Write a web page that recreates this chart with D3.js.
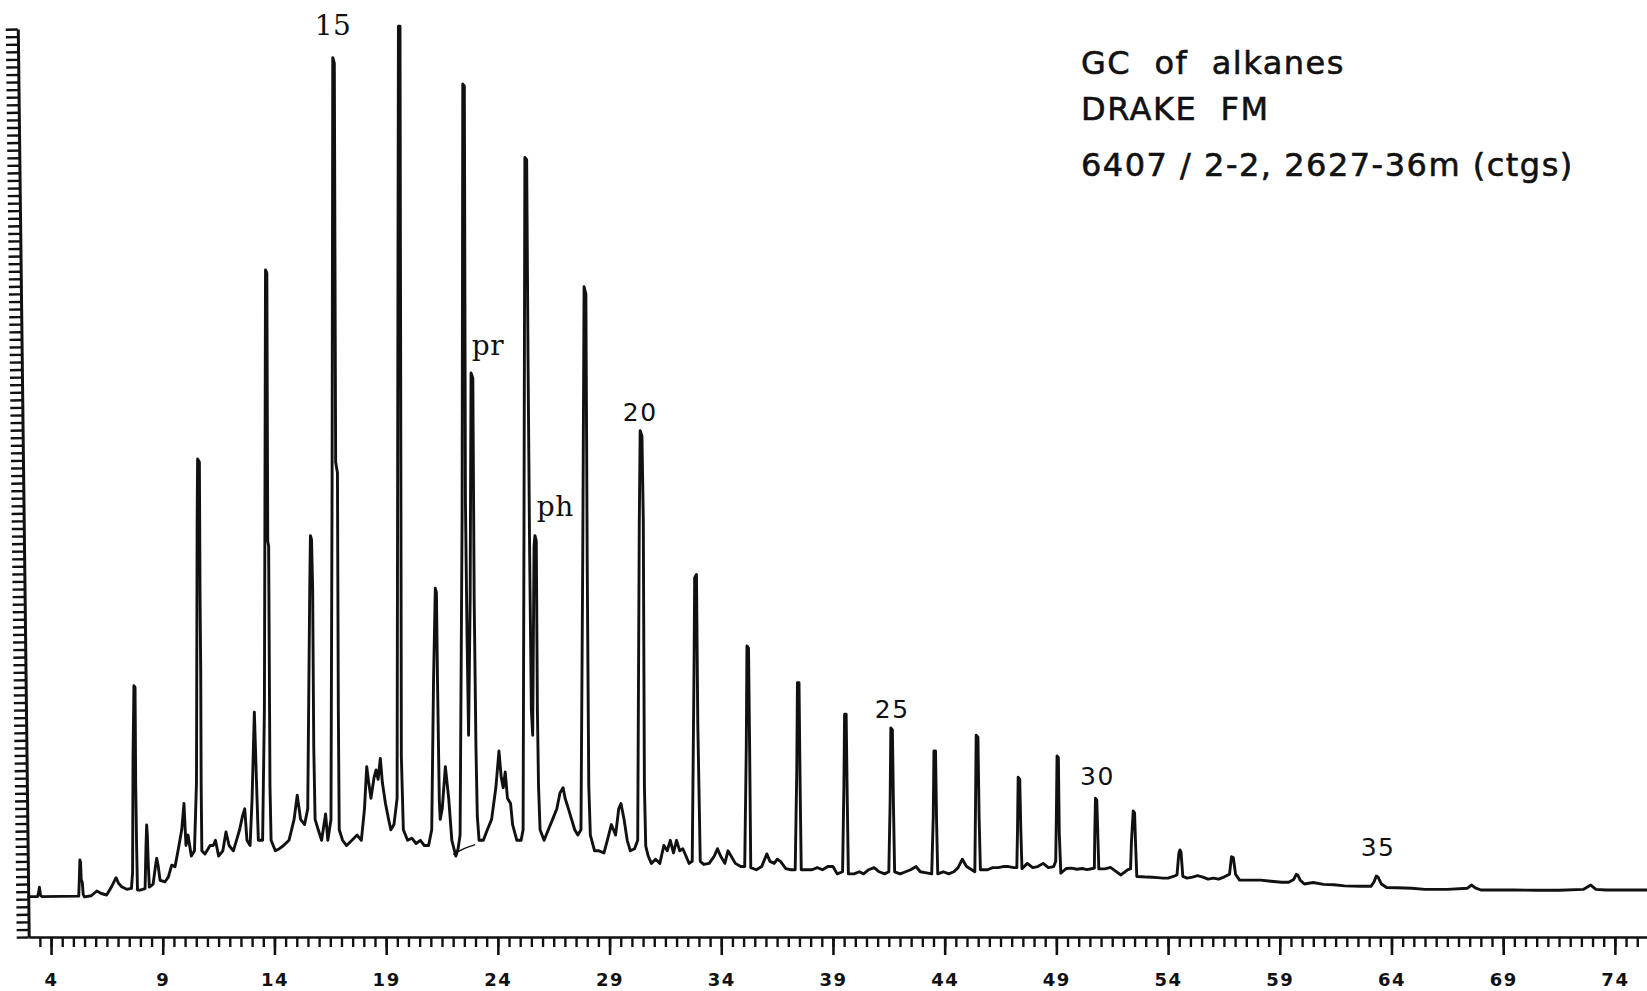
<!DOCTYPE html>
<html>
<head>
<meta charset="utf-8">
<script src="https://cdn.jsdelivr.net/npm/d3@7"></script>
<style>
  html, body { margin: 0; padding: 0; background: #fff; }
  svg { display: block; }
</style>
</head>
<body>
<svg id="chart" width="1647" height="991"></svg>
<script>
// Detector trace: [retention time (min), signal]
const trace = [
  [3.00,5.33],[3.40,5.35],[3.45,6.0],[3.48,6.57],[3.53,5.5],[3.60,5.33],[5.24,5.40],[5.27,8.0],[5.29,10.18],[5.32,9.9],[5.35,7.6],[5.40,7.2],[5.44,5.6],[5.50,5.3],[5.80,5.45],[6.05,6.08],[6.25,5.75],[6.49,5.55],[6.70,6.6],[6.91,7.84],[7.02,7.1],[7.16,6.65],[7.39,6.3],[7.60,6.43],
  [7.65,8.5],[7.67,23.6],[7.71,33.2],[7.76,33.0],[7.79,19.9],[7.83,12.0],[7.87,6.2],
  [7.98,6.2],[8.21,6.4],[8.25,12.0],[8.28,14.8],[8.31,13.5],[8.35,9.8],[8.40,6.6],[8.57,7.0],[8.68,9.5],[8.73,10.4],[8.80,9.3],[8.88,7.5],[9.10,7.3],[9.25,7.9],[9.40,9.5],[9.55,9.3],[9.70,11.67],[9.85,14.17],[9.95,17.64],[10.04,12.09],[10.13,13.47],[10.28,10.70],[10.42,11.39],[10.51,20.41],
  [10.54,55],[10.56,63.17],[10.64,62.75],[10.67,45],[10.70,35.0],[10.72,20],[10.75,11.39],
  [10.89,10.98],[11.12,12.09],[11.26,12.09],[11.36,12.78],[11.50,10.70],[11.69,11.39],[11.83,13.89],[11.97,12.09],[12.16,11.39],[12.30,12.78],[12.44,14.17],[12.58,16.11],[12.67,16.94],[12.77,12.78],[12.91,12.09],[13.00,18.33],[13.10,29.72],[13.19,21.11],[13.28,12.78],[13.47,12.78],
  [13.55,30],[13.57,51.65],[13.60,88.16],[13.66,87.74],[13.70,52.35],[13.74,51.65],[13.80,20],[13.85,12.78],
  [14.04,11.39],[14.22,11.67],[14.41,12.09],[14.65,12.78],[14.88,15.54],[15.02,18.75],[15.17,15.54],[15.35,14.86],[15.49,16.94],
  [15.58,46.09],[15.61,53.04],[15.66,52.5],[15.71,46.09],[15.76,25],[15.82,15.54],
  [15.96,14.17],[16.11,12.78],[16.29,16.25],[16.39,12.78],[16.53,15.54],
  [16.58,60],[16.61,116.2],[16.68,115.5],[16.74,62.75],[16.82,61.37],[16.86,30],[16.90,14.17],
  [17.05,12.78],[17.23,12.09],[17.47,12.78],[17.70,13.47],[17.89,12.78],[18.03,16.94],[18.13,22.50],[18.22,20.41],[18.32,18.33],[18.46,21.11],[18.55,22.08],[18.64,20.83],[18.74,23.61],[18.83,20.41],[18.97,17.64],[19.11,15.54],[19.21,14.17],[19.35,14.86],[19.49,18.33],
  [19.53,90],[19.55,120.36],[19.62,120.36],[19.66,60],[19.68,23.89],[19.77,14.17],
  [19.96,12.78],[20.15,13.06],[20.34,12.36],[20.53,12.78],[20.71,12.09],[20.90,12.09],[21.04,14.17],
  [21.12,33.6],[21.20,46.09],[21.25,45.5],[21.30,33.6],[21.38,18],[21.42,15.54],
  [21.51,16.94],[21.65,22.50],[21.80,18.33],[21.94,12.78],[22.12,10.70],[22.22,11.67],[22.31,13.47],
  [22.40,55.81],[22.43,112.73],[22.50,112.45],[22.55,57.2],[22.62,40],[22.69,26.66],
  [22.76,44.71],[22.80,74.55],[22.88,73.86],[22.94,44.71],[23.02,25],[23.08,16],[23.16,12.78],
  [23.35,12.78],[23.53,14.17],[23.72,15.54],[23.91,19.72],[24.05,24.58],[24.15,21.11],[24.24,19.72],[24.33,21.8],[24.43,18.33],[24.57,17.64],[24.66,14.86],[24.85,12.78],[25.04,12.78],[25.13,14.17],
  [25.17,54.43],[25.21,103.01],[25.29,102.73],[25.35,76.63],[25.42,51.65],[25.50,30],[25.56,26.66],
  [25.62,51.65],[25.66,53.04],[25.72,52.35],[25.77,30],[25.82,20],[25.89,14.17],
  [26.07,12.78],[26.26,14.17],[26.45,15.54],[26.64,16.94],[26.78,19.03],[26.92,19.72],[27.01,18.33],[27.16,16.94],[27.30,15.54],[27.44,14.17],[27.58,13.47],[27.72,14.17],
  [27.80,50.26],[27.86,85.94],[27.94,84.96],[28.00,49.57],[28.07,20],[28.14,13.47],
  [28.33,11.39],[28.52,11.39],[28.75,11.11],[28.90,12.78],[29.08,14.86],[29.27,13.47],[29.41,16.94],[29.51,17.64],[29.65,15.54],[29.79,12.78],[29.93,11.39],[30.12,11.67],[30.26,12.78],
  [30.33,54.43],[30.37,66.92],[30.45,66.22],[30.51,55.12],[30.56,20],[30.62,12.0],
  [30.73,10.70],[30.87,9.73],[31.06,10.28],[31.25,9.73],[31.43,12.09],[31.58,11.39],[31.72,12.78],[31.86,11.11],[32.00,12.78],[32.14,11.39],[32.28,11.67],[32.42,10.70],[32.56,9.73],[32.70,10.00],
  [32.78,35],[32.81,47.48],[32.89,47.90],[32.95,28.05],[33.00,20],[33.06,10.00],
  [33.22,9.59],[33.46,9.73],[33.69,10.70],[33.83,11.67],[33.97,10.70],[34.16,9.73],[34.30,11.39],[34.44,10.70],[34.63,9.73],[34.87,9.31],[35.05,9.31],
  [35.12,25],[35.15,38.46],[35.22,38.18],[35.27,25],[35.32,9.17],
  [35.57,8.89],[35.81,9.31],[36.04,10.98],[36.18,10.00],[36.37,9.73],[36.51,10.28],[36.65,10.00],[36.89,9.03],[37.12,8.89],[37.31,8.89],
  [37.38,22],[37.41,33.6],[37.48,33.6],[37.53,20],[37.58,8.89],
  [37.83,8.89],[38.06,8.89],[38.30,9.17],[38.53,8.89],[38.77,9.31],[39.00,9.31],[39.19,8.34],[39.43,8.62],
  [39.49,20],[39.52,29.44],[39.59,29.44],[39.64,18],[39.69,8.34],
  [39.94,8.34],[40.18,8.62],[40.37,8.34],[40.60,8.89],[40.84,9.17],[41.07,8.62],[41.31,8.34],[41.50,8.62],
  [41.56,18],[41.59,27.63],[41.66,27.36],[41.71,17],[41.76,8.62],
  [42.01,8.34],[42.25,8.62],[42.48,8.89],[42.72,9.31],[42.91,8.62],[43.19,8.48],[43.42,8.34],
  [43.49,16],[43.52,24.58],[43.59,24.58],[43.64,15],[43.69,8.34],
  [43.94,8.62],[44.18,8.34],[44.41,8.62],[44.60,9.17],[44.79,10.28],[44.98,9.31],[45.21,8.89],[45.35,8.62],
  [45.38,17],[45.41,26.66],[45.49,26.39],[45.54,16],[45.60,8.89],
  [45.92,8.89],[46.15,9.17],[46.39,9.17],[46.62,9.31],[46.86,9.31],[47.09,9.17],[47.23,9.17],
  [47.26,14],[47.29,21.11],[47.36,20.83],[47.41,14],[47.46,9.03],
  [47.70,9.73],[47.94,9.17],[48.17,9.31],[48.41,9.73],[48.64,9.17],[48.88,9.31],[48.97,10.00],
  [49.00,16],[49.03,23.92],[49.09,23.7],[49.13,13.7],[49.20,8.42],
  [49.44,9.05],[49.68,9.1],[49.91,8.95],[50.15,9.05],[50.38,8.9],[50.62,9.05],[50.70,9.1],
  [50.72,13.7],[50.75,18.33],[50.81,18.1],[50.86,13.0],[50.90,9.0],
  [51.18,9.0],[51.42,9.2],[51.65,8.7],[51.89,8.2],[52.20,8.9],[52.32,9.0],
  [52.36,12.5],[52.44,16.65],[52.50,16.4],[52.55,11.9],[52.60,8.0],
  [52.83,7.97],[53.06,7.92],[53.30,7.9],[53.53,7.85],[53.77,7.78],[54.00,7.78],[54.24,8.0],[54.40,8.2],
  [54.48,11.0],[54.53,11.5],[54.58,11.2],[54.66,8.0],
  [54.85,7.78],[55.09,7.92],[55.32,8.1],[55.56,7.92],[55.79,7.64],[56.03,7.78],[56.26,7.64],[56.50,7.92],[56.75,8.3],
  [56.84,10.61],[56.92,10.5],[57.02,8.3],[57.20,7.51],[57.67,7.51],[58.14,7.51],[58.61,7.37],[59.08,7.23],[59.40,7.23],[59.62,7.6],
  [59.74,8.28],[59.80,8.2],[59.92,7.5],[60.10,7.0],[60.49,7.2],[60.96,6.95],[61.43,6.9],[61.90,6.75],[62.61,6.7],[63.08,6.7],[63.22,7.3],
  [63.32,8.06],[63.40,7.9],[63.55,7.0],[63.78,6.55],[64.25,6.5],[64.90,6.45],[65.50,6.3],[66.50,6.3],[67.40,6.45],
  [67.59,6.87],[67.75,6.5],[68.00,6.21],[69.50,6.21],[70.50,6.17],[71.50,6.17],[72.60,6.3],
  [72.92,6.87],[73.15,6.3],[73.60,6.21],[75.44,6.21]
];

// Integrator baseline drawn under the pristane peak
const integratorBase = [[22.00,10.9],[22.45,11.7],[22.98,12.2]];

// Peak annotations: text, retention time, signal height of the text baseline
const peakLabels = [
  { text: "15", t: 16.62, s: 119.2, font: "serif", anchor: "middle" },
  { text: "pr", t: 22.83, s: 76.9,  font: "serif", anchor: "start" },
  { text: "ph", t: 25.74, s: 55.6,  font: "serif", anchor: "start" },
  { text: "20", t: 30.37, s: 68.2,  font: "sans",  anchor: "middle" },
  { text: "25", t: 41.65, s: 28.9,  font: "sans",  anchor: "middle" },
  { text: "30", t: 50.84, s: 20.1,  font: "sans",  anchor: "middle" },
  { text: "35", t: 63.40, s: 10.7,  font: "sans",  anchor: "middle" }
];

// Labelled x-axis ticks (minutes)
const xMajorTicks = [4, 9, 14, 19, 24, 29, 34, 39, 44, 49, 54, 59, 64, 69, 74];

const titleLines = ["GC  of  alkanes", "DRAKE  FM", "6407 / 2-2, 2627-36m (ctgs)"];

const svg = d3.select("#chart");
const x = d3.scaleLinear().domain([3, 75.5]).range([28.7, 1648.4]);
const y = d3.scaleLinear().domain([0, 120]).range([937, 29]);

const ink = "#111";

// x axis: half-minute minor ticks and labelled major ticks
const minorTicks = d3.range(3.5, 75.01, 0.5);
const gMinor = svg.append("g")
  .attr("transform", `translate(0,${y(0)})`)
  .call(d3.axisBottom(x).tickValues(minorTicks).tickSize(10).tickSizeOuter(0).tickFormat(""));
gMinor.select(".domain").attr("stroke", ink).attr("stroke-width", 2.6);
gMinor.selectAll(".tick line").attr("stroke", ink).attr("stroke-width", 2.4);

const gMajor = svg.append("g")
  .attr("transform", `translate(0,${y(0)})`)
  .call(d3.axisBottom(x).tickValues(xMajorTicks).tickSize(18).tickSizeOuter(0).tickFormat(d3.format("d")));
gMajor.select(".domain").remove();
gMajor.selectAll(".tick line").attr("stroke", ink).attr("stroke-width", 2.6);
gMajor.selectAll(".tick text")
  .attr("y", 49).attr("dy", 0)
  .attr("fill", ink)
  .style("font-family", "'DejaVu Sans', sans-serif")
  .style("font-weight", "bold")
  .style("font-size", "18px")
  .style("letter-spacing", "1.5px");

// y axis: unlabelled dense ticks, pen slightly skewed
const gY = svg.append("g")
  .attr("transform", `translate(${x(3)},0) rotate(-0.69, 0, ${y(0)})`)
  .call(d3.axisLeft(y).tickValues(d3.range(0, 121, 1)).tickSize(12).tickSizeOuter(0).tickFormat(""));
gY.select(".domain").attr("stroke", ink).attr("stroke-width", 3);
gY.selectAll(".tick line").attr("stroke", ink).attr("stroke-width", 2.4);

// chromatogram trace
const line = d3.line().x(d => x(d[0])).y(d => y(d[1]));
svg.append("path")
  .datum(trace)
  .attr("d", line)
  .attr("fill", "none")
  .attr("stroke", ink)
  .attr("stroke-width", 2.9)
  .attr("stroke-linejoin", "round")
  .attr("stroke-linecap", "round");

svg.append("path")
  .datum(integratorBase)
  .attr("d", d3.line().x(d => x(d[0])).y(d => y(d[1])).curve(d3.curveBasis))
  .attr("fill", "none")
  .attr("stroke", ink)
  .attr("stroke-width", 1.3);

// peak labels
svg.append("g").selectAll("text")
  .data(peakLabels)
  .join("text")
  .attr("x", d => x(d.t))
  .attr("y", d => y(d.s))
  .attr("text-anchor", d => d.anchor)
  .attr("fill", ink)
  .style("font-family", d => d.font === "serif" ? "'DejaVu Serif', serif" : "'DejaVu Sans', sans-serif")
  .style("font-size", d => d.font === "serif" ? "28px" : "25px")
  .style("letter-spacing", d => d.font === "serif" ? "0.5px" : "1.5px")
  .text(d => d.text);

// sample title block
svg.append("g").selectAll("text")
  .data(titleLines)
  .join("text")
  .attr("x", 1081)
  .attr("y", (d, i) => [74, 120, 176][i])
  .attr("fill", ink)
  .attr("stroke", ink)
  .attr("stroke-width", 0.6)
  .style("font-family", "'DejaVu Sans', sans-serif")
  .style("font-size", "32px")
  .style("letter-spacing", "1.5px")
  .style("white-space", "pre")
  .attr("xml:space", "preserve")
  .text(d => d);
</script>
</body>
</html>
